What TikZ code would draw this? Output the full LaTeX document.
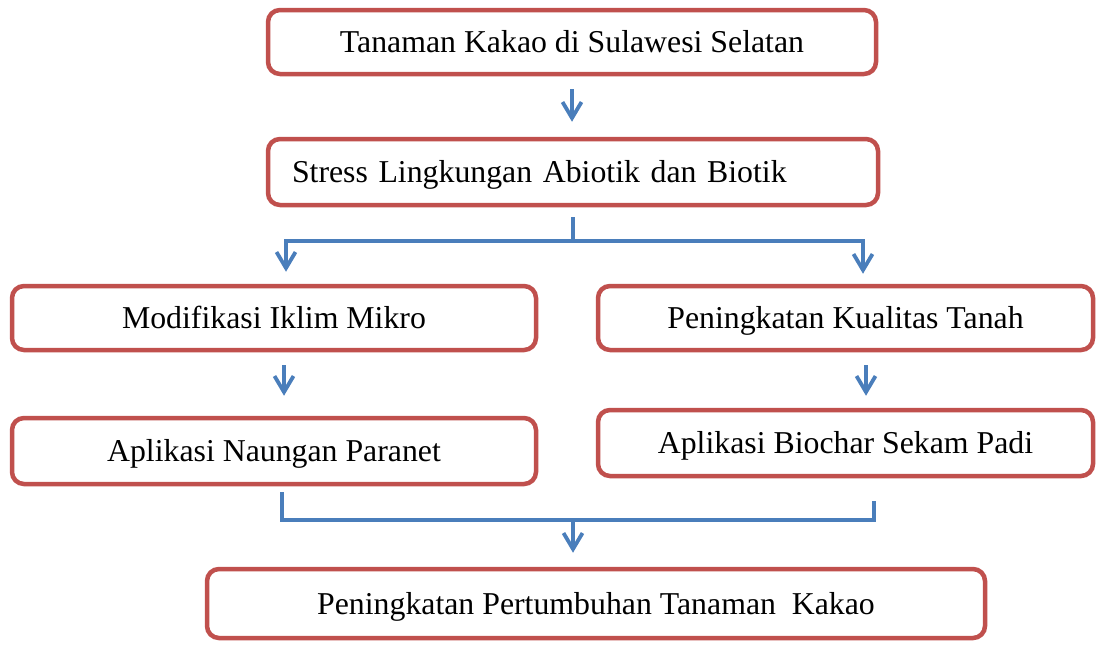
\documentclass[tikz,border=0pt]{standalone}
\usepackage{fontspec}
\setmainfont{Liberation Serif}
\usetikzlibrary{arrows.meta}
\definecolor{bred}{RGB}{192,80,77}
\definecolor{bblue}{RGB}{74,126,187}
\begin{document}
\begin{tikzpicture}[x=1pt,y=-1pt,
  box/.style={draw=bred, line width=4.5pt, rounded corners=12pt, fill=white,
    font=\fontsize{31.8}{36}\selectfont, inner sep=0pt, text height=21pt, text depth=0pt},
  conn/.style={draw=bblue, line width=3.2pt},
  arr/.style={conn, -{Straight Barb[length=16pt,width=19pt,line width=3.8pt]}}]
\useasboundingbox (0,0) rectangle (1097,648);

\node[box, minimum width=608pt, minimum height=64pt] (b1) at (572,42) {Tanaman Kakao di Sulawesi Selatan};
\node[box, minimum width=610pt, minimum height=66pt, text width=562pt, align=left] (b2) at (573,172) {Stress Lingkungan Abiotik dan Biotik};
\node[box, minimum width=524pt, minimum height=64pt] (b3l) at (274,318) {Modifikasi Iklim Mikro};
\node[box, minimum width=495pt, minimum height=64pt] (b3r) at (845.5,318) {Peningkatan Kualitas Tanah};
\node[box, minimum width=524pt, minimum height=66pt] (b4l) at (274,451) {Aplikasi Naungan Paranet};
\node[box, minimum width=495pt, minimum height=66pt] (b4r) at (845.5,443) {Aplikasi Biochar Sekam Padi};
\node[box, minimum width=778pt, minimum height=69pt] (b5) at (596,603.5) {Peningkatan Pertumbuhan Tanaman\ \ Kakao};

% top arrow
\draw[arr, shorten <=13pt, shorten >=15pt] (b1.south) -- (b1.south |- b2.north);

% split
\coordinate (s) at (573,241);
\draw[conn] ([yshift=-10pt]b2.south) -- (s);
\draw[arr, shorten >=12pt] (s) -| ([xshift=12pt]b3l.north);
\draw[arr, shorten >=10pt] (s) -| ([xshift=17.5pt]b3r.north);

% column arrows
\draw[arr, shorten <=13pt, shorten >=20pt] ([xshift=10pt]b3l.south) -- ([xshift=10pt]b4l.north);
\draw[arr, shorten <=13pt, shorten >=12pt] ([xshift=20.5pt]b3r.south) -- ([xshift=20.5pt]b4r.north);

% merge
\coordinate (m) at (573,520);
\draw[conn] ([xshift=8pt,yshift=-6pt]b4l.south) |- (m);
\draw[conn] ([xshift=28.5pt,yshift=-23pt]b4r.south) |- (m);
\draw[arr, shorten >=14pt] (m) -- (m |- b5.north);
\end{tikzpicture}
\end{document}
